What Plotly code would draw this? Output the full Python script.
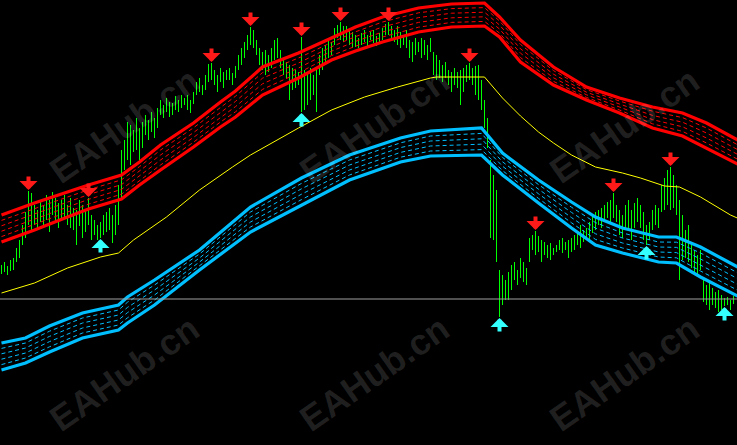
import numpy as np
import plotly.graph_objects as go

# ---------------- data (price units) ----------------
high = [180,183,179,185,187,197,205,220,233,254,
        252,240,235,245,240,250,245,253,247,242,
        245,250,240,247,237,235,245,240,235,247,
        230,225,220,223,230,233,237,230,240,260,
        295,305,323,320,315,327,317,323,330,325,
        333,327,337,345,340,347,343,342,349,345,
        350,347,350,345,353,363,367,360,370,381,
        382,375,370,377,373,375,377,372,379,390,
        397,403,410,418,415,405,397,393,395,390,
        397,405,407,395,387,383,380,377,375,373,
        408,375,373,377,370,377,390,397,400,405,
        403,417,420,423,419,419,415,413,410,407,
        412,415,410,413,415,409,412,417,421,423,
        419,415,419,413,410,415,405,403,407,403,
        407,405,400,407,393,390,385,380,383,375,
        373,377,373,375,377,380,382,377,379,380,
        365,345,327,285,270,255,175,170,165,173,
        180,183,175,187,183,177,207,210,214,209,
        205,203,200,202,197,200,205,207,203,205,
        207,210,213,220,215,217,223,230,233,235,
        237,240,243,245,252,240,235,230,240,245,
        235,242,247,240,233,220,223,235,240,237,
        260,267,275,278,270,260,245,230,215,220,
        200,195,190,195,165,160,162,157,153,155,
        150,147,148,145,149]
low = [171,173,170,174,175,183,187,200,207,220,
       215,220,215,223,217,225,213,230,223,217,
       225,227,220,217,215,200,219,207,213,220,
       205,210,205,207,210,213,215,202,210,220,
       245,275,285,280,293,295,285,297,310,305,
       313,307,317,330,327,333,328,330,335,333,
       337,340,335,332,341,350,353,350,355,363,
       365,360,353,363,357,365,365,360,367,375,
       380,387,395,400,397,390,380,375,370,373,
       377,385,387,377,370,367,345,355,357,360,
       333,335,340,345,350,333,370,375,383,387,
       390,400,407,405,403,405,400,397,398,397,
       400,403,398,405,402,399,403,405,410,410,
       407,403,400,397,400,397,387,383,390,393,
       387,390,385,393,370,365,367,363,367,360,
       353,360,357,340,353,363,365,360,350,345,
       335,317,297,207,205,183,128,140,145,145,
       155,165,160,167,163,160,183,195,190,193,
       183,190,187,185,190,193,195,192,195,187,
       193,195,200,197,203,207,205,212,215,220,
       217,225,227,223,227,223,210,207,215,217,
       205,217,223,217,205,200,205,215,220,217,
       233,235,240,235,237,230,165,185,187,183,
       177,173,170,175,143,140,135,140,137,133,
       135,139,140,135,141]

# upper (red) envelope
red_x = [0, 11, 22, 29, 40, 46, 53, 64, 73, 78, 87, 99, 110, 118, 127, 139, 150,
         161, 166, 173, 184, 195, 206, 217, 227, 235, 246]
red_top = [230, 242, 253, 260, 270, 283, 300, 322, 343, 354, 378, 392, 407, 418, 428,
           437, 441, 442, 428, 405, 378, 358, 347, 338, 332, 322, 304]
red_bot = [203, 215, 228, 236, 246, 260, 275, 298, 318, 328, 350, 367, 385, 394, 403,
           413, 418, 419, 408, 383, 360, 345, 332, 317, 309, 297, 280]

# lower (cyan) envelope
cyan_x = [0, 8, 16, 27, 39, 42, 51, 66, 83, 100, 116, 133, 143, 160, 167, 179, 190,
          198, 207, 219, 225, 233, 246]
cyan_top = [102, 107, 119, 132, 140, 148, 165, 195, 238, 267, 290, 307, 314, 317, 292,
            265, 243, 228, 217, 208, 208, 198, 177]
cyan_bot = [75, 82, 93, 107, 115, 122, 140, 175, 213, 240, 265, 283, 289, 290, 270,
            242, 217, 200, 192, 183, 182, 168, 148]

# middle moving average (yellow)
ma_x = [0, 11, 22, 33, 39, 44, 55, 66, 77, 83, 99, 110, 121, 132, 143, 145, 161, 167,
        173, 179, 184, 190, 198, 207, 213, 221, 226, 233, 243, 246]
ma_y = [152, 162, 177, 188, 192, 205, 228, 255, 278, 290, 317, 335, 348, 358, 367, 368,
        368, 347, 329, 313, 302, 290, 278, 272, 267, 259, 258, 248, 230, 226]

sell_idx = [9, 29, 70, 83, 100, 113, 129, 156, 178, 204, 223]
buy_idx = [33, 100, 166, 215, 241]
bid_level = 146
watermark = "EAHub.cn"

# ---------------- figure ----------------
fig = go.Figure()

# price bars (high-low lines)
bx, by = [], []
for i, (h, l) in enumerate(zip(high, low)):
    bx += [i, i, None]
    by += [l, h, None]
fig.add_trace(go.Scatter(x=bx, y=by, mode="lines",
                         line=dict(color="#00ff00", width=1), hoverinfo="skip"))

def add_band(x, top, bot, color):
    top = np.array(top, float)
    bot = np.array(bot, float)
    for k in range(1, 5):
        mid = bot + (top - bot) * k / 5.0
        fig.add_trace(go.Scatter(x=x, y=mid, mode="lines",
                                 line=dict(color=color, width=1, dash="4px,3px"),
                                 hoverinfo="skip"))
    for arr in (top, bot):
        fig.add_trace(go.Scatter(x=x, y=arr, mode="lines",
                                 line=dict(color=color, width=3.2), hoverinfo="skip"))

add_band(red_x, red_top, red_bot, "#ff0000")
add_band(cyan_x, cyan_top, cyan_bot, "#00bfff")

fig.add_trace(go.Scatter(x=ma_x, y=ma_y, mode="lines",
                         line=dict(color="#ffff00", width=1), hoverinfo="skip"))

fig.add_shape(type="line", xref="paper", x0=0, x1=1, yref="y",
              y0=bid_level, y1=bid_level, line=dict(color="#a0a0a0", width=1))

annotations = []
for i in sell_idx:
    annotations.append(dict(x=i, y=high[i], xref="x", yref="y", text="",
                            showarrow=True, ax=0, ay=-16, arrowhead=1, arrowsize=0.75,
                            arrowwidth=4, arrowcolor="#ff1a1a", standoff=1))
for i in buy_idx:
    annotations.append(dict(x=i, y=low[i], xref="x", yref="y", text="",
                            showarrow=True, ax=0, ay=16, arrowhead=1, arrowsize=0.75,
                            arrowwidth=4, arrowcolor="#33ffff", standoff=1))

W, H = 737, 445
for cx in (124, 374, 624):
    for cy in (125, 373):
        annotations.append(dict(x=cx / W, y=1 - cy / H, xref="paper", yref="paper",
                                text=watermark, showarrow=False, textangle=-35,
                                font=dict(family="Liberation Sans, Arial", size=36,
                                          weight="bold",
                                          color="rgba(255,255,255,0.13)"),
                                xanchor="center", yanchor="middle"))

fig.update_layout(
    width=W, height=H,
    margin=dict(l=0, r=0, t=0, b=0),
    paper_bgcolor="#000000", plot_bgcolor="#000000",
    showlegend=False,
    annotations=annotations,
    xaxis=dict(range=[-0.5, -0.5 + W / 3.0], visible=False, fixedrange=True),
    yaxis=dict(range=[0, 445], visible=False, fixedrange=True),
)

fig.write_html("out.html", config={"displayModeBar": False},
               post_script="document.body.style.margin='0';document.body.style.padding='0';"
                           "document.body.style.background='#000';")
